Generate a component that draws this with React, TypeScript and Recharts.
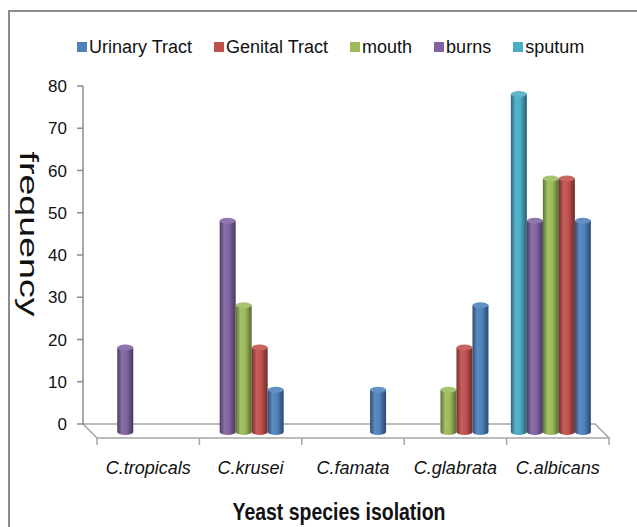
import { BarChart, Bar, XAxis, YAxis, Legend } from 'recharts'

const species = ['C.tropicals', 'C.krusei', 'C.famata', 'C.glabrata', 'C.albicans']
const sputum = [0, 0, 0, 0, 80]
const burns = [20, 50, 0, 0, 50]
const mouth = [0, 30, 0, 10, 60]
const genital = [0, 20, 0, 20, 60]
const urinary = [0, 10, 10, 30, 50]
const yTicks = [0, 10, 20, 30, 40, 50, 60, 70, 80]

// drawn left to right inside each group
const series = [
  { key: 'sputum', name: 'sputum', color: '#4BACC6' },
  { key: 'burns', name: 'burns', color: '#8064A2' },
  { key: 'mouth', name: 'mouth', color: '#9BBB59' },
  { key: 'genital', name: 'Genital Tract', color: '#C0504D' },
  { key: 'urinary', name: 'Urinary Tract', color: '#4F81BD' },
]
const legendOrder = [...series].reverse()

const data = species.map((name, i) => ({
  name,
  sputum: sputum[i],
  burns: burns[i],
  mouth: mouth[i],
  genital: genital[i],
  urinary: urinary[i],
}))

const W = 637
const H = 527
const FONT = '"Liberation Sans", Arial, sans-serif'
const PLOT_LEFT = 83
const PLOT_RIGHT = 595
const PLOT_BOTTOM = 424
const DEPTH = 14
const BAR_DX = 7
const BAR_DY = 8

function shade(hex: string, f: number) {
  const n = parseInt(hex.slice(1), 16)
  const ch = [(n >> 16) & 255, (n >> 8) & 255, n & 255].map((c) =>
    f < 1 ? Math.round(c * f) : Math.round(c + (255 - c) * (f - 1))
  )
  return `rgb(${ch.join(',')})`
}

function Cylinder(props: any) {
  const { x, y, width, height, color, id } = props
  if (!height || height <= 0) return null
  const l = x + BAR_DX
  const r = l + width
  const top = y + BAR_DY
  const bottom = y + height + BAR_DY
  const rx = width / 2
  const ry = 3
  return (
    <g>
      <path
        d={`M${l},${top} L${l},${bottom} A${rx},${ry} 0 0 0 ${r},${bottom} L${r},${top} Z`}
        fill={`url(#cyl-${id})`}
      />
      <ellipse cx={l + rx} cy={top} rx={rx} ry={ry} fill={shade(color, 1.12)} />
    </g>
  )
}

function CategoryTick(props: any) {
  const { x, y, payload } = props
  return (
    <text
      x={x + DEPTH}
      y={y + 50}
      textAnchor="middle"
      fontFamily={FONT}
      fontSize={18}
      fontStyle="italic"
      fill="#111"
    >
      {payload.value}
    </text>
  )
}

function XTitle(props: any) {
  const { viewBox } = props
  return (
    <text
      x={viewBox.x + viewBox.width / 2}
      y={viewBox.y + 96}
      textAnchor="middle"
      fontFamily={FONT}
      fontSize={23}
      fontWeight="bold"
      textLength={213}
      lengthAdjust="spacingAndGlyphs"
      fill="#111"
    >
      Yeast species isolation
    </text>
  )
}

function YTitle(props: any) {
  const { viewBox } = props
  const cx = viewBox.x + 29
  const cy = viewBox.y + viewBox.height / 2 - 21
  return (
    <text
      transform={`translate(${cx},${cy}) rotate(90)`}
      textAnchor="middle"
      dominantBaseline="central"
      fontFamily={FONT}
      fontSize={25}
      textLength={165}
      lengthAdjust="spacingAndGlyphs"
      fill="#111"
    >
      frequency
    </text>
  )
}

function LegendRow() {
  return (
    <div style={{ display: 'flex', paddingLeft: 77, height: 52, width: 620, alignItems: 'flex-start', fontFamily: FONT, fontSize: 18, color: '#111', whiteSpace: 'nowrap' }}>
      {legendOrder.map((s) => (
        <div key={s.key} style={{ display: 'flex', alignItems: 'center', height: 26, marginRight: 22, flexShrink: 0 }}>
          <span style={{ width: 10, height: 10, background: s.color, marginRight: 2, display: 'inline-block', flexShrink: 0 }} />
          {s.name}
        </div>
      ))}
    </div>
  )
}

function Floor() {
  const band = (PLOT_RIGHT - PLOT_LEFT) / species.length
  const ticks = Array.from({ length: species.length + 1 }, (_, k) => PLOT_LEFT + DEPTH + k * band)
  return (
    <svg width={W} height={H} style={{ position: 'absolute', left: 0, top: 0 }}>
      <rect x={9} y={11} width={W + 20} height={H + 20} fill="#fff" stroke="#8c8c8c" strokeWidth={2} />
      <polygon
        points={`${PLOT_LEFT},${PLOT_BOTTOM} ${PLOT_RIGHT},${PLOT_BOTTOM} ${PLOT_RIGHT + DEPTH},${PLOT_BOTTOM + DEPTH} ${PLOT_LEFT + DEPTH},${PLOT_BOTTOM + DEPTH}`}
        fill="#fff"
        stroke="#a6a6a6"
        strokeWidth={1.5}
      />
      {ticks.map((t) => (
        <line key={t} x1={t} x2={t} y1={PLOT_BOTTOM + DEPTH} y2={PLOT_BOTTOM + DEPTH + 7} stroke="#a6a6a6" strokeWidth={1.5} />
      ))}
    </svg>
  )
}

export default function App() {
  return (
    <div style={{ position: 'relative', width: W, height: H }}>
      <style>{'body{margin:0}'}</style>
      <Floor />
      <div style={{ position: 'absolute', left: 0, top: 0 }}>
        <BarChart
          width={W}
          height={H}
          data={data}
          margin={{ top: 34, right: W - PLOT_RIGHT, bottom: 0, left: 0 }}
          barCategoryGap="11%"
          barGap={0}
        >
          <defs>
            {series.map((s) => (
              <linearGradient key={s.key} id={`cyl-${s.key}`} x1="0" y1="0" x2="1" y2="0">
                <stop offset="0%" stopColor={shade(s.color, 0.6)} />
                <stop offset="30%" stopColor={shade(s.color, 1.08)} />
                <stop offset="60%" stopColor={s.color} />
                <stop offset="100%" stopColor={shade(s.color, 0.55)} />
              </linearGradient>
            ))}
          </defs>
          <Legend verticalAlign="top" align="left" wrapperStyle={{ left: 0, width: W }} content={<LegendRow />} />
          <XAxis
            dataKey="name"
            axisLine={false}
            tickLine={false}
            tickSize={0}
            tickMargin={0}
            interval={0}
            height={H - PLOT_BOTTOM}
            tick={<CategoryTick />}
            label={<XTitle />}
          />
          <YAxis
            domain={[0, 80]}
            ticks={yTicks}
            width={PLOT_LEFT}
            tickSize={6}
            tickMargin={10}
            axisLine={{ stroke: '#8c8c8c', strokeWidth: 1.5 }}
            tickLine={{ stroke: '#8c8c8c', strokeWidth: 1.5 }}
            tick={{ fontFamily: FONT, fontSize: 17, fill: '#111' }}
            label={<YTitle />}
          />
          {series.map((s) => (
            <Bar
              key={s.key}
              dataKey={s.key}
              name={s.name}
              fill={s.color}
              isAnimationActive={false}
              shape={(p: any) => <Cylinder {...p} color={s.color} id={s.key} />}
            />
          ))}
        </BarChart>
      </div>
    </div>
  )
}
